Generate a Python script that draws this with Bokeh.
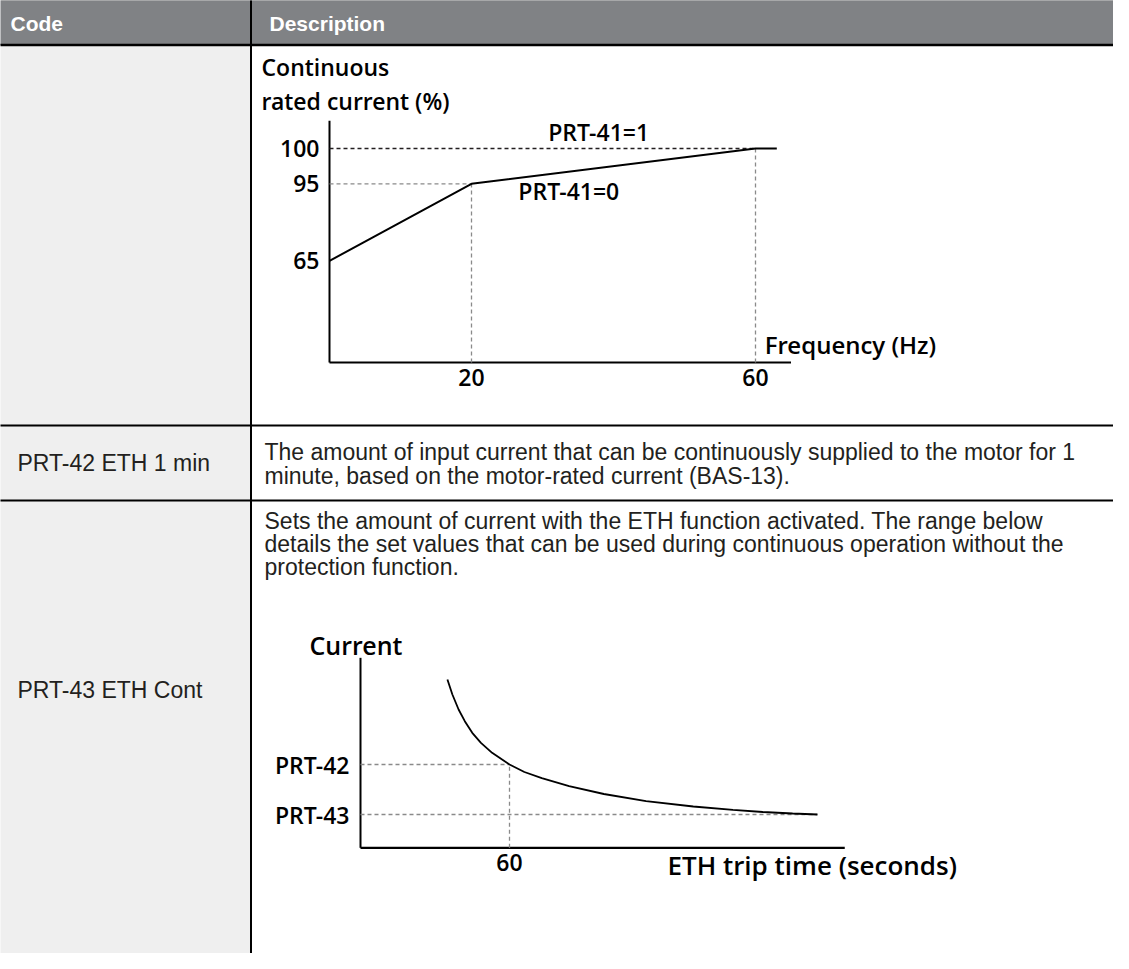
import numpy as np
from bokeh.plotting import figure
from bokeh.models import Range1d, Label
from bokeh.core.properties import value
from bokeh.embed import file_html
from bokeh.resources import INLINE

# ---------------- data ----------------
# Diagram 1: continuous rated current (%) versus output frequency (Hz)
freq_prt41_0 = [0, 20, 60, 63]
pct_prt41_0 = [65, 95, 100, 100]
freq_prt41_1 = [0, 60]
pct_prt41_1 = [100, 100]
freq_ticks = [20, 60]
freq_tick_labels = ["20", "60"]
pct_ticks = [65, 95, 100]
pct_tick_labels = ["65", "95", "100"]

# Diagram 2: current versus ETH trip time (seconds)
trip_time_s = [35, 37, 39.5, 42, 45, 48.5, 53, 60, 66, 73, 84, 98, 115, 134, 150, 162, 174, 184]
trip_current = [201, 192, 183, 176, 169, 163, 157, 150, 145.5, 141.8, 137, 132.3, 128, 124.8,
                122.8, 121.5, 120.6, 120]
eth_levels = [150, 120]
eth_level_labels = ["PRT-42", "PRT-43"]
time_ticks = [60]
time_tick_labels = ["60"]

# Table texts
header_labels = ["Code", "Description"]
code_labels = ["PRT-42 ETH 1 min", "PRT-43 ETH Cont"]
desc_row2 = ["The amount of input current that can be continuously supplied to the motor for 1",
             "minute, based on the motor-rated current (BAS-13)."]
desc_row3 = ["Sets the amount of current with the ETH function activated. The range below",
             "details the set values that can be used during continuous operation without the",
             "protection function."]

# ---------------- layout (page pixels) ----------------
W, H = 1113, 953
PX0, PX1, PY0, PY1 = 8, 8 + W, 8, 8 + H

def xr(v0, p0, v1, p1):
    k = (v1 - v0) / (p1 - p0)
    return Range1d(v0 + (PX0 - p0) * k, v0 + (PX1 - p0) * k)

def yr(v0, p0, v1, p1):
    k = (v1 - v0) / (p1 - p0)
    return Range1d(v0 + (PY1 - p0) * k, v0 + (PY0 - p0) * k)

p = figure(width=W, height=H, output_backend="svg", toolbar_location=None,
           x_range=Range1d(PX0, PX1), y_range=Range1d(PY1, PY0), min_border=0)
p.axis.visible = False
p.grid.visible = False
p.outline_line_color = None
p.background_fill_color = "white"
p.border_fill_color = "white"

# schematic (non-linear) vertical scale used by diagram 1
Y1_PCT = [0, 65, 95, 100, 105]
Y1_POS = [0, 1.32, 2.32, 2.78, 3.14]
def y1(v):
    return list(np.interp(v, Y1_PCT, Y1_POS))

p.extra_x_ranges = {"f": xr(0, 337, 60, 763), "t": xr(0, 368, 60, 517)}
p.extra_y_ranges = {"c1": yr(0, 370, 1, 293), "c2": yr(150, 772, 120, 822)}

BODY_S = "Liberation Sans"
DIAG_S = "Open Sans SemiBold, Open Sans"
DIAG = value(DIAG_S)
INK = "#231f20"
GRAYDASH = "#8a8a8a"
DFS = "23px"

# ---------------- table ----------------
TL, DIV, TR = 6, 258.5, 1130
HT, HB = 6.5, 52.5
R1, R2, TB = 433, 508, 970
p.quad(left=[TL], right=[TR], top=[HT], bottom=[HB], fill_color="#808285", line_color=None)
p.quad(left=[TL], right=[DIV], top=[HB], bottom=[TB], fill_color="#efefef", line_color=None)
p.segment(x0=[TL, TL], y0=[HT, HB], x1=[TR, TR], y1=[HT, HB], line_color="black", line_width=2.5)
p.segment(x0=[TL, TL], y0=[R1, R2], x1=[TR, TR], y1=[R1, R2], line_color="black", line_width=1.8)
p.segment(x0=[DIV], y0=[HT], x1=[DIV], y1=[TB], line_color="black", line_width=2)

for txt, x in zip(header_labels, [18, 277]):
    p.add_layout(Label(x=x, y=31, text=txt, text_color="white", text_font=BODY_S,
                       text_font_style="bold", text_font_size="21px", text_baseline="middle"))
for txt, y in zip(code_labels, [470, 697]):
    p.add_layout(Label(x=25, y=y, text=txt, text_color=INK, text_font=BODY_S,
                       text_font_size="23px", text_baseline="middle"))
for i, txt in enumerate(desc_row2):
    p.add_layout(Label(x=272, y=459 + 24 * i, text=txt, text_color=INK, text_font=BODY_S,
                       text_font_size="23px", text_baseline="middle"))
for i, txt in enumerate(desc_row3):
    p.add_layout(Label(x=272, y=528 + 23 * i, text=txt, text_color=INK, text_font=BODY_S,
                       text_font_size="23px", text_baseline="middle"))

# ---------------- diagram 1 ----------------
kw1 = dict(x_range_name="f", y_range_name="c1")
F_END = 65
y_top1 = Y1_POS[-1]
p.segment(x0=[0], y0=[0], x1=[F_END], y1=[0], line_color="black", line_width=2.2, **kw1)
p.segment(x0=[0], y0=[0], x1=[0], y1=[y_top1], line_color="black", line_width=2, **kw1)
# guide lines
p.segment(x0=[0], y0=y1([95]), x1=[20], y1=y1([95]), line_color=GRAYDASH, line_width=1.3,
          line_dash="4 3", **kw1)
p.segment(x0=freq_ticks, y0=[0, 0], x1=freq_ticks, y1=y1([95, 100]), line_color=GRAYDASH,
          line_width=1.3, line_dash="4 3", **kw1)
# PRT-41 = 1 (constant 100 %)
p.line(freq_prt41_1, y1(pct_prt41_1), line_color=INK, line_width=1.6, line_dash="4 3", **kw1)
# PRT-41 = 0
p.line(freq_prt41_0, y1(pct_prt41_0), line_color="black", line_width=2, **kw1)

p.text(x=[0] * 3, y=y1(pct_ticks), text=pct_tick_labels, x_offset=-10, text_align="right",
       text_baseline="middle", text_font=DIAG, text_font_size=DFS, text_color="black", **kw1)
p.text(x=freq_ticks, y=[0, 0], text=freq_tick_labels, y_offset=15, text_align="center",
       text_baseline="middle", text_font=DIAG, text_font_size=DFS, text_color="black", **kw1)
p.add_layout(Label(x=37.9, y=y1([100])[0], y_offset=16, text="PRT-41=1", x_range_name="f",
                   y_range_name="c1", text_align="center", text_baseline="middle",
                   text_font=DIAG_S, text_font_size=DFS, text_color="black"))
p.add_layout(Label(x=26.6, y=y1([95])[0], y_offset=-7, text="PRT-41=0", x_range_name="f",
                   y_range_name="c1", text_align="left", text_baseline="middle",
                   text_font=DIAG_S, text_font_size=DFS, text_color="black"))
p.add_layout(Label(x=61.3, y=0, y_offset=18, text="Frequency (Hz)", x_range_name="f",
                   y_range_name="c1", text_baseline="middle", text_font=DIAG_S,
                   text_font_size="24px", text_color="black"))
p.add_layout(Label(x=269, y=74, text="Continuous", text_baseline="middle", text_font=DIAG_S,
                   text_font_size=DFS, text_color="black"))
p.add_layout(Label(x=269, y=108, text="rated current (%)", text_baseline="middle",
                   text_font=DIAG_S, text_font_size=DFS, text_color="black"))

# ---------------- diagram 2 ----------------
kw2 = dict(x_range_name="t", y_range_name="c2")
I_BASE, I_TOP, T_END = 100, 214, 195
p.segment(x0=[0], y0=[I_BASE], x1=[T_END], y1=[I_BASE], line_color="black", line_width=2.2, **kw2)
p.segment(x0=[0], y0=[I_BASE], x1=[0], y1=[I_TOP], line_color="black", line_width=2, **kw2)
p.segment(x0=[0, 0], y0=eth_levels, x1=[time_ticks[0], trip_time_s[-1]], y1=eth_levels,
          line_color=GRAYDASH, line_width=1.3, line_dash="4 3", **kw2)
p.segment(x0=time_ticks, y0=[I_BASE], x1=time_ticks, y1=[eth_levels[0]], line_color=GRAYDASH,
          line_width=1.3, line_dash="4 3", **kw2)
p.line(trip_time_s, trip_current, line_color="black", line_width=1.8, **kw2)

p.text(x=[0, 0], y=eth_levels, text=eth_level_labels, x_offset=-11, text_align="right",
       text_baseline="middle", text_font=DIAG, text_font_size=DFS, text_color="black", **kw2)
p.text(x=time_ticks, y=[I_BASE], text=time_tick_labels, y_offset=15, text_align="center",
       text_baseline="middle", text_font=DIAG, text_font_size=DFS, text_color="black", **kw2)
p.add_layout(Label(x=123.6, y=I_BASE, y_offset=-17, text="ETH trip time (seconds)",
                   x_range_name="t", y_range_name="c2", text_baseline="middle",
                   text_font=DIAG_S, text_font_size="26px", text_color="black"))
p.add_layout(Label(x=317, y=652, text="Current", text_baseline="middle", text_font=DIAG_S,
                   text_font_size="25px", text_color="black"))

open("out.html", "w").write(file_html(p, INLINE))
